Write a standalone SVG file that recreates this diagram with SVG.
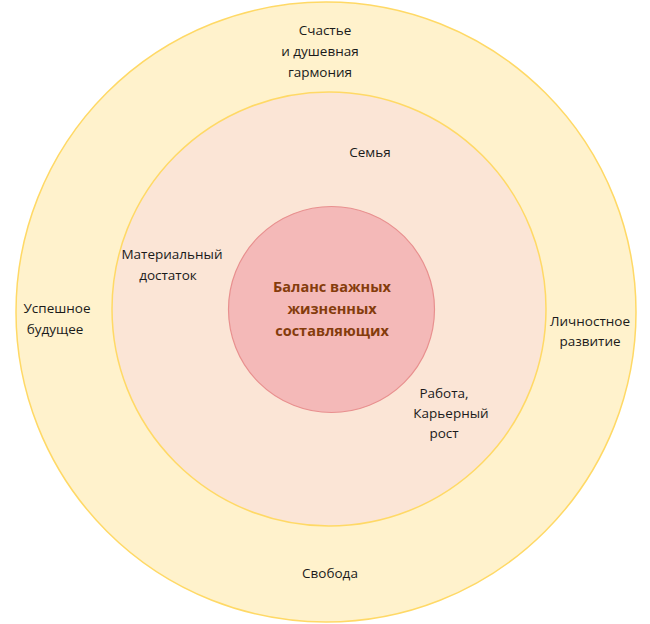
<svg xmlns="http://www.w3.org/2000/svg" width="650" height="624" viewBox="0 0 650 624">
<style>
.lbl{font-family:"Open Sans","Noto Sans","Liberation Sans",sans-serif;font-size:13.5px;fill:#1a1a1a;text-anchor:middle}
.ctr{font-family:"Open Sans","Noto Sans","Liberation Sans",sans-serif;font-size:14.5px;font-weight:bold;fill:#843C0C;text-anchor:middle}
</style>
<rect width="650" height="624" fill="#ffffff"/>
<g id="outer">
<circle cx="326" cy="312" r="310" fill="#FFF2CC" stroke="#FFD966" stroke-width="1.5"/>
<text class="lbl" x="325" y="35">Счастье</text>
<text class="lbl" x="320" y="56">и душевная</text>
<text class="lbl" x="320" y="77">гармония</text>
<text class="lbl" x="57" y="313">Успешное</text>
<text class="lbl" x="55" y="334">будущее</text>
<text class="lbl" x="590" y="326">Личностное</text>
<text class="lbl" x="590" y="346">развитие</text>
<text class="lbl" x="330" y="578">Свобода</text>
</g>
<g id="middle">
<circle cx="329" cy="309" r="217" fill="#FBE5D6" stroke="#FFD966" stroke-width="1.5"/>
<text class="lbl" x="370" y="157">Семья</text>
<text class="lbl" x="172" y="259">Материальный</text>
<text class="lbl" x="168" y="280">достаток</text>
<text class="lbl" x="444" y="398">Работа,</text>
<text class="lbl" x="451" y="418">Карьерный</text>
<text class="lbl" x="444" y="438">рост</text>
</g>
<g id="inner">
<circle cx="331.5" cy="309.5" r="103" fill="#F4B9B8" stroke="#E8908F" stroke-width="1.2"/>
<text class="ctr" x="332" y="292">Баланс важных</text>
<text class="ctr" x="332" y="314">жизненных</text>
<text class="ctr" x="332" y="336">составляющих</text>
</g>
<g id="connectors"/>
</svg>
